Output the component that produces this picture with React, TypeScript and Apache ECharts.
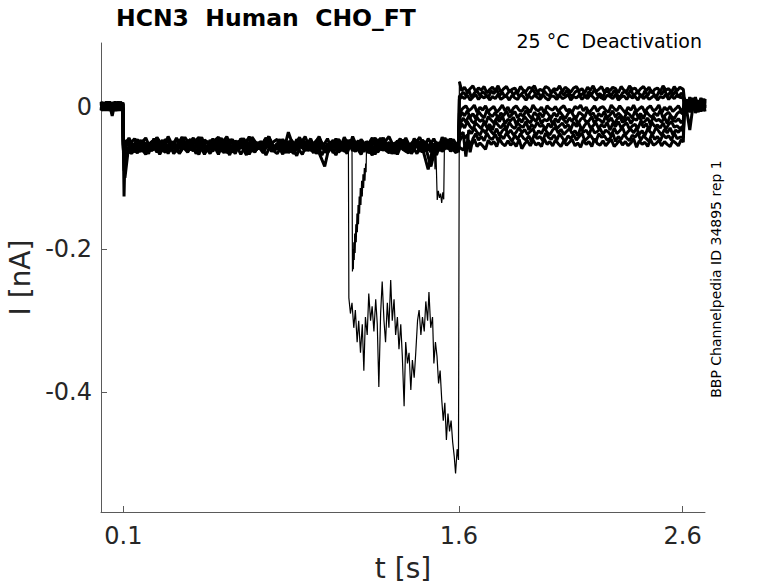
import React, { useEffect, useRef } from 'react'
import * as echarts from 'echarts'

// sample times (s); odd sweeps are sampled on the "B" grid, offset by half a step
const T_PRE = [0, 0.0125, 0.025, 0.0375, 0.05, 0.0625, 0.075, 0.0875, 0.098]
const T_STEP = [0.1, 0.103, 0.107]
const T_HOLD_A = [
  0.125, 0.15, 0.175, 0.2, 0.225, 0.25, 0.275, 0.3, 0.325, 0.35,
  0.375, 0.4, 0.425, 0.45, 0.475, 0.5, 0.525, 0.55, 0.575, 0.6,
  0.625, 0.65, 0.675, 0.7, 0.725, 0.75, 0.775, 0.8, 0.825, 0.85,
  0.875, 0.9, 0.925, 0.95, 0.975, 1.0, 1.025, 1.05, 1.075, 1.1,
  1.125, 1.15, 1.175, 1.2, 1.225, 1.25, 1.275, 1.3, 1.325, 1.35,
  1.375, 1.4, 1.425, 1.45, 1.475, 1.5, 1.525, 1.55, 1.575, 1.598,
]
const T_HOLD_B = [
  0.1375, 0.1625, 0.1875, 0.2125, 0.2375, 0.2625, 0.2875, 0.3125, 0.3375, 0.3625,
  0.3875, 0.4125, 0.4375, 0.4625, 0.4875, 0.5125, 0.5375, 0.5625, 0.5875, 0.6125,
  0.6375, 0.6625, 0.6875, 0.7125, 0.7375, 0.7625, 0.7875, 0.8125, 0.8375, 0.8625,
  0.8875, 0.9125, 0.9375, 0.9625, 0.9875, 1.0125, 1.0375, 1.0625, 1.0875, 1.1125,
  1.1375, 1.1625, 1.1875, 1.2125, 1.2375, 1.2625, 1.2875, 1.3125, 1.3375, 1.3625,
  1.3875, 1.4125, 1.4375, 1.4625, 1.4875, 1.5125, 1.5375, 1.5625, 1.5875, 1.598,
]
const T_TAIL_A = [
  1.602, 1.6125, 1.625, 1.6375, 1.65, 1.6625, 1.675, 1.6875, 1.7, 1.7125,
  1.725, 1.7375, 1.75, 1.7625, 1.775, 1.7875, 1.8, 1.8125, 1.825, 1.8375,
  1.85, 1.8625, 1.875, 1.8875, 1.9, 1.9125, 1.925, 1.9375, 1.95, 1.9625,
  1.975, 1.9875, 2.0, 2.0125, 2.025, 2.0375, 2.05, 2.0625, 2.075, 2.0875,
  2.1, 2.1125, 2.125, 2.1375, 2.15, 2.1625, 2.175, 2.1875, 2.2, 2.2125,
  2.225, 2.2375, 2.25, 2.2625, 2.275, 2.2875, 2.3, 2.3125, 2.325, 2.3375,
  2.35, 2.3625, 2.375, 2.3875, 2.4, 2.4125, 2.425, 2.4375, 2.45, 2.4625,
  2.475, 2.4875, 2.5, 2.5125, 2.525, 2.5375, 2.55, 2.5625, 2.575, 2.5875,
  2.603,
]
const T_TAIL_B = [
  1.602, 1.619, 1.631, 1.644, 1.656, 1.669, 1.681, 1.694, 1.706, 1.719,
  1.731, 1.744, 1.756, 1.769, 1.781, 1.794, 1.806, 1.819, 1.831, 1.844,
  1.856, 1.869, 1.881, 1.894, 1.906, 1.919, 1.931, 1.944, 1.956, 1.969,
  1.981, 1.994, 2.006, 2.019, 2.031, 2.044, 2.056, 2.069, 2.081, 2.094,
  2.106, 2.119, 2.131, 2.144, 2.156, 2.169, 2.181, 2.194, 2.206, 2.219,
  2.231, 2.244, 2.256, 2.269, 2.281, 2.294, 2.306, 2.319, 2.331, 2.344,
  2.356, 2.369, 2.381, 2.394, 2.406, 2.419, 2.431, 2.444, 2.456, 2.469,
  2.481, 2.494, 2.506, 2.519, 2.531, 2.544, 2.556, 2.569, 2.581, 2.594,
  2.603,
]
const T_POST = [2.608, 2.62, 2.632, 2.645, 2.657, 2.67, 2.682, 2.694, 2.7]

// currents in pA, one row per sweep
const PRE_PA = [
  [4, -5, 6, -4, 5, -6, 3, -5, 4],
  [-5, 5, -3, 7, -6, 4, -4, 6, -2],
  [6, -4, 5, -6, 3, -5, 7, -3, 5],
  [-3, 6, -5, 4, -13, 5, -4, 6, -5],
  [5, -6, 4, -3, 6, -4, 5, -6, 3],
  [-6, 3, -5, 6, -3, 7, -5, 4, -4],
  [3, -5, 7, -4, 5, -3, 6, -5, 4],
  [-4, 6, -6, 5, -5, 3, -6, 5, -3],
  [7, -3, 4, -5, 6, -6, 4, -4, 6],
  [-5, 4, -4, 6, -4, 5, -3, 7, -5],
]
const STEP_PA = [
  [-52, -64, -58],
  [-55, -126, -70],
  [-58, -66, -100],
  [-50, -90, -62],
  [-60, -57, -49],
  [-54, -61, -66],
  [-48, -58, -53],
  [-57, -52, -60],
  [-61, -67, -55],
  [-53, -49, -57],
]
const HOLD_PA = [
  [-49, -60, -53, -44, -62, -57, -47, -66, -51, -58,
   -43, -55, -64, -48, -59, -52, -67, -46, -56, -61,
   -45, -53, -63, -50, -58, -42, -60, -54, -65, -49,
   -57, -47, -62, -52, -44, -59, -55, -68, -50, -56],
  [-58, -46, -63, -54, -49, -67, -52, -60, -44, -57,
   -61, -50, -55, -65, -47, -59, -53, -42, -62, -56,
   -48, -64, -51, -58, -45, -60, -66, -53, -49, -57,
   -43, -61, -55, -50, -68, -52, -58, -46, -63, -54,
   -59, -47, -65, -51, -56, -44, -62, -57, -49, -60,
   -53, -66, -48, -58, -45, -61, -54, -50, -64, -56],
  [-52, -64, -47, -57, -61, -43, -55, -59, -50, -66,
   -54, -46, -62, -58, -49, -63, -44, -56, -60, -51,
   -67, -53, -48, -59, -55, -42, -61, -57, -50, -64,
   -46, -58, -53, -65, -49, -56, -60, -45, -62, -52,
   -57, -48, -63, -54, -44, -59, -51, -66, -55, -47,
   -61, -53, -58, -49, -64, -56, -45, -60, -52, -57],
  [-60, -49, -56, -66, -45, -58, -52, -62, -47, -55,
   -64, -51, -43, -59, -57, -48, -63, -54, -46, -61,
   -53, -67, -50, -56, -44, -60, -58, -49, -65, -52,
   -55, -42, -62, -57, -51, -59, -47, -64, -54, -50,
   -61, -46, -56, -68, -53, -48, -60, -55, -45, -63,
   -57, -50, -59, -88, -52, -62, -48, -56, -65, -54],
  [-47, -58, -63, -52, -55, -44, -61, -57, -49, -65,
   -53, -60, -46, -56, -62, -50, -43, -59, -54, -66,
   -48, -57, -61, -51, -64, -45, -58, -53, -60, -47,
   -56, -67, -50, -55, -42, -62, -59, -49, -54, -63,
   -46, -58, -52, -65, -57, -44, -61, -53, -50, -60,
   -55, -48, -63, -56, -84, -51, -59, -46, -62, -54],
  [-63, -51, -48, -59, -56, -65, -46, -54, -60, -43,
   -57, -62, -50, -67, -53, -47, -58, -55, -64, -49,
   -52, -44, -61, -57, -50, -63, -55, -46, -59, -66,
   -51, -56, -48, -62, -58, -45, -65, -53, -60, -47,
   -54, -61, -49, -57, -64, -52, -42, -59, -56, -50,
   -66, -53, -47, -61, -55, -58, -44, -63, -51, -57],
  [-54, -45, -61, -58, -50, -64, -53, -47, -66, -56,
   -49, -60, -55, -43, -62, -57, -51, -65, -46, -59,
   -53, -68, -48, -56, -61, -44, -58, -52, -63, -50,
   -57, -46, -60, -54, -65, -84, -49, -59, -55, -47,
   -62, -52, -57, -64, -45, -56, -60, -51, -67, -48,
   -58, -54, -43, -61, -57, -50, -63, -55, -46, -59],
  [-59, -65, -50, -55, -46, -61, -57, -52, -63, -48,
   -56, -44, -60, -54, -66, -51, -58, -47, -62, -53,
   -45, -57, -64, -49, -55, -60, -52, -67, -36, -58,
   -54, -62, -48, -57, -51, -65, -55, -46, -60, -53,
   -63, -49, -56, -44, -59, -61, -50, -66, -54, -47,
   -58, -52, -64, -45, -57, -60, -51, -55, -62, -48],
  [-44, -60, -56, -67, -49, -53, -62, -42, -58, -64,
   -51, -47, -66, -55, -59, -45, -63, -52, -68, -48,
   -57, -61, -43, -54, -65, -50, -59, -46, -62, -56,
   -69, -47, -53, -60, -44, -64, -58, -49, -55, -66,
   -42, -61, -57, -51, -67, -46, -54, -63, -48, -60,
   -65, -45, -56, -62, -50, -68, -43, -59, -53, -64],
  [-66, -48, -53, -61, -45, -58, -64, -50, -56, -43,
   -62, -55, -67, -47, -52, -60, -44, -65, -57, -49,
   -59, -42, -63, -54, -68, -51, -46, -61, -56, -64,
   -48, -57, -45, -66, -53, -60, -50, -63, -43, -58,
   -55, -67, -49, -62, -46, -59, -65, -52, -57, -44,
   -61, -47, -64, -54, -69, -50, -58, -45, -63, -53],
]
const TAIL_PA = [
  [35, 22, 27, 20, 25, 29, 21, 26, 23, 28, 19, 24, 27, 22, 29, 20, 25, 28, 21, 24,
   26, 19, 28, 23, 21, 27, 25, 29, 20, 24, 22, 28, 26, 19, 25, 23, 29, 21, 27, 24,
   20, 26, 28, 22, 25, 19, 27, 23, 29, 21, 24, 28, 20, 26, 22, 27, 25, 19, 28, 23,
   21, 29, 24, 26, 20, 25, 28, 22, 27, 19, 24, 26, 21, 29, 23, 25, 20, 28, 22, 27, 24],
  [14, 20, 16, 23, 13, 19, 22, 15, 21, 17, 12, 22, 18, 24, 15, 20, 13, 19, 23, 16,
   21, 14, 18, 22, 13, 20, 24, 16, 19, 12, 22, 17, 15, 23, 19, 13, 21, 16, 22, 18,
   14, 20, 23, 15, 19, 12, 21, 17, 24, 16, 18, 13, 22, 20, 15, 23, 17, 12, 19, 21,
   16, 24, 14, 20, 18, 13, 22, 15, 23, 19, 12, 21, 17, 24, 14, 20, 16, 22, 13, 19, 15],
  [10, 14, 11, 16, 9, 13, 17, 10, 15, 12, 16, 9, 14, 11, 17, 10, 13, 15, 9, 16,
   12, 10, 17, 14, 9, 15, 11, 16, 13, 10, 17, 12, 9, 15, 14, 10, 16, 11, 13, 17,
   9, 14, 12, 16, 10, 15, 11, 17, 13, 9, 15, 12, 10, 16, 14, 11, 17, 9, 13, 15,
   10, 16, 12, 14, 9, 17, 11, 15, 10, 13, 16, 9, 14, 12, 17, 10, 15, 11, 16, 13, 12],
  [-9, -2, 1, -6, -3, 2, -8, -1, -5, 1, -7, -3, 0, -8, -4, 2, -6, -1, -9, -2,
   1, -5, -7, 0, -3, -8, 2, -4, -6, -1, -9, 1, -3, -5, 0, -7, -2, 1, -6, -4,
   -8, 0, -3, 2, -6, -1, -9, -4, 1, -7, -2, 0, -5, -8, 2, -3, -6, 1, -4, -9,
   -1, -5, 2, -7, -3, 0, -8, -2, 1, -6, -4, 2, -9, -1, -5, 0, -7, -3, 1, -6, -3],
  [-18, -8, -13, -6, -15, -10, -17, -7, -12, -16, -5, -11, -14, -8, -17, -9, -13, -6, -15, -11,
   -7, -16, -10, -14, -5, -12, -17, -8, -13, -9, -15, -6, -11, -16, -9, -14, -7, -12, -17, -10,
   -6, -13, -16, -8, -11, -15, -5, -12, -9, -17, -10, -14, -7, -16, -12, -6, -15, -9, -13, -18,
   -8, -11, -16, -6, -14, -10, -17, -7, -12, -15, -9, -13, -5, -16, -11, -8, -14, -17, -10, -7, -11],
  [-26, -16, -22, -13, -20, -24, -15, -21, -18, -25, -14, -19, -23, -16, -21, -13, -24, -18, -20, -15,
   -25, -17, -22, -14, -19, -23, -16, -21, -13, -24, -18, -20, -15, -25, -17, -22, -14, -19, -23, -16,
   -21, -13, -25, -18, -15, -22, -20, -14, -24, -17, -19, -23, -13, -21, -16, -25, -18, -14, -22, -20,
   -15, -24, -17, -19, -13, -23, -21, -16, -25, -14, -20, -18, -22, -15, -24, -13, -19, -21, -17, -23, -19],
  [-33, -24, -30, -21, -28, -32, -23, -27, -31, -22, -29, -25, -33, -21, -26, -30, -24, -32, -22, -28,
   -31, -23, -27, -29, -21, -33, -25, -30, -22, -28, -26, -32, -24, -29, -21, -31, -27, -23, -30, -25,
   -32, -22, -28, -24, -33, -26, -21, -30, -27, -23, -31, -25, -29, -22, -33, -24, -28, -21, -30, -26,
   -23, -32, -27, -25, -31, -21, -29, -24, -33, -22, -28, -26, -30, -23, -32, -25, -21, -29, -27, -31, -27],
  [-41, -36, -70, -33, -38, -30, -36, -40, -32, -37, -29, -35, -39, -31, -41, -34, -30, -38, -33, -40,
   -36, -29, -37, -32, -39, -35, -31, -41, -34, -38, -30, -36, -40, -33, -29, -37, -32, -39, -35, -31,
   -38, -34, -41, -30, -36, -33, -40, -29, -37, -35, -31, -39, -33, -36, -41, -30, -38, -34, -29, -40,
   -35, -32, -37, -30, -39, -34, -41, -31, -36, -38, -29, -35, -40, -32, -37, -30, -39, -33, -36, -31, -35],
  [-49, -42, -44, -40, -64, -45, -38, -47, -42, -48, -37, -44, -46, -39, -48, -41, -45, -37, -43, -49,
   -40, -46, -38, -44, -47, -41, -49, -39, -45, -42, -48, -37, -43, -46, -40, -47, -38, -44, -49, -41,
   -45, -39, -47, -42, -37, -48, -44, -40, -46, -49, -38, -43, -41, -47, -45, -37, -49, -42, -46, -39,
   -44, -48, -40, -43, -37, -47, -41, -45, -49, -38, -46, -42, -48, -39, -44, -41, -47, -37, -45, -43, -43],
  [-57, -61, -52, -48, -54, -46, -56, -51, -55, -60, -47, -53, -49, -56, -45, -52, -55, -48, -54, -50,
   -56, -46, -59, -52, -48, -55, -47, -54, -51, -56, -45, -53, -49, -55, -47, -52, -56, -48, -54, -50,
   -46, -55, -51, -57, -47, -53, -49, -56, -45, -52, -54, -48, -55, -50, -46, -56, -52, -47, -54, -49,
   -55, -51, -45, -57, -48, -53, -50, -56, -46, -54, -52, -47, -55, -49, -53, -56, -48, -51, -55, -46, -50],
]
const POST_PA = [
  [10, -2, 12, 0, 9, -3, 11, 1, 8],
  [-4, 8, -6, 10, -5, 7, -3, 9, -2],
  [6, -7, 9, -4, 11, -6, 8, -5, 10],
  [12, -3, 10, -1, 13, -2, 9, 0, 11],
  [-6, 5, -8, 7, -4, 6, -7, 4, -3],
  [3, -9, -33, -2, 8, -5, 6, -4, 5],
  [9, -1, 13, 2, 10, -4, 12, -1, 7],
  [-8, 4, -5, 6, -9, 3, -6, 5, -7],
  [5, -5, 7, -3, 4, -8, 9, -6, 2],
  [-2, 10, -4, 12, -3, 9, -5, 11, 0],
]

// run-down events: times (s) and currents (pA)
const DIP_A_T = [
  1.106, 1.108, 1.115, 1.122, 1.13, 1.137, 1.145, 1.152, 1.16, 1.168,
  1.175, 1.182, 1.19, 1.197, 1.205, 1.212, 1.22, 1.228, 1.235, 1.242,
  1.25, 1.257, 1.265, 1.272, 1.28, 1.287, 1.295, 1.302, 1.31, 1.317,
  1.325, 1.332, 1.34, 1.347, 1.355, 1.362, 1.37, 1.377, 1.385, 1.392,
  1.4, 1.407, 1.415, 1.422, 1.43, 1.437, 1.445, 1.452, 1.46, 1.466,
  1.474, 1.482, 1.488, 1.495, 1.502, 1.509, 1.516, 1.523, 1.53, 1.537,
  1.544, 1.551, 1.558, 1.565, 1.572, 1.579, 1.585, 1.592, 1.598,
]
const DIP_A_PA = [
  -62, -268, -290, -275, -310, -285, -330, -300, -345, -305,
  -370, -295, -320, -262, -300, -280, -315, -270, -305, -393,
  -290, -245, -300, -330, -275, -310, -243, -300, -270, -320,
  -295, -340, -305, -350, -420, -330, -360, -345, -397, -355,
  -380, -345, -300, -285, -320, -295, -315, -273, -300, -260,
  -310, -295, -360, -330, -350, -388, -370, -410, -440, -415,
  -467, -430, -455, -440, -470, -490, -514, -480, -495,
]
const DIP_B_T = [
  1.122, 1.124, 1.126, 1.128, 1.13, 1.132, 1.134, 1.136, 1.139, 1.141,
  1.144, 1.146, 1.149, 1.151, 1.154, 1.156, 1.159, 1.162, 1.165, 1.168,
  1.171, 1.174, 1.177, 1.18, 1.183, 1.185, 1.187,
]
const DIP_B_PA = [
  -58, -231, -200, -228, -190, -215, -178, -205, -165, -190,
  -150, -176, -138, -165, -126, -150, -114, -138, -104, -126,
  -95, -114, -86, -104, -80, -92, -56,
]
const DIP_C_T = [1.49, 1.493, 1.497, 1.503, 1.508, 1.513, 1.518, 1.523, 1.528, 1.532, 1.535]
const DIP_C_PA = [-55, -88, -60, -131, -118, -128, -122, -135, -120, -130, -58]

const EVENTS = [
  { sweep: 0, t: DIP_A_T, pa: DIP_A_PA },
  { sweep: 1, t: DIP_B_T, pa: DIP_B_PA },
  { sweep: 2, t: DIP_C_T, pa: DIP_C_PA },
]

const X_TICKS = [0.1, 1.6, 2.6]
const Y_TICKS = [-0.4, -0.2, 0]

const FONT = '"DejaVu Sans", Verdana, sans-serif'

// noisy baseline of a sweep (with a gap where an event is) and the event trace itself
function sweepParts(k: number) {
  const pts: number[][] = []
  const add = (ts: number[], vs: number[]) => {
    for (let i = 0; i < Math.min(ts.length, vs.length); i++) pts.push([ts[i], vs[i] / 1000])
  }
  const odd = k % 2 === 1
  add(T_PRE, PRE_PA[k])
  add(T_STEP, STEP_PA[k])
  add(odd ? T_HOLD_B : T_HOLD_A, HOLD_PA[k])
  add(odd ? T_TAIL_B : T_TAIL_A, TAIL_PA[k])
  add(T_POST, POST_PA[k])
  pts.sort((a, b) => a[0] - b[0])
  const ev = EVENTS.find(e => e.sweep === k)
  if (!ev) return { base: pts, event: null as number[][] | null }
  const t0 = ev.t[0], t1 = ev.t[ev.t.length - 1]
  const before = pts.filter(p => p[0] < t0)
  const after = pts.filter(p => p[0] > t1)
  const evPts = ev.t.map((t, i) => [t, ev.pa[i] / 1000])
  return {
    base: [...before, [(t0 + t1) / 2, null as any], ...after],
    event: [before[before.length - 1], ...evPts, after[0]],
  }
}

export default function App() {
  const ref = useRef<HTMLDivElement | null>(null)

  useEffect(() => {
    if (!ref.current) return
    const chart = echarts.init(ref.current, null, { renderer: 'svg' })
    const axisColor = '#5a5a5a'
    const labelColor = '#262626'

    const series: any[] = []
    HOLD_PA.forEach((_, k) => {
      const { base, event } = sweepParts(k)
      series.push({
        type: 'line', data: base, showSymbol: false, silent: true, connectNulls: false,
        lineStyle: { color: '#000', width: 3 },
      })
      if (event) {
        series.push({
          type: 'line', data: event, showSymbol: false, silent: true,
          lineStyle: { color: '#000', width: 1.2 },
        })
      }
    })

    chart.setOption({
      animation: false,
      backgroundColor: '#fff',
      grid: { left: 101, right: 73, top: 43, bottom: 71, outerBoundsMode: 'none' },
      xAxis: {
        type: 'value',
        min: 0,
        max: 2.7,
        name: 't [s]',
        nameLocation: 'middle',
        nameGap: 44,
        nameTextStyle: { fontSize: 28, lineHeight: 24, fontFamily: FONT, color: labelColor },
        axisLine: { onZero: false, lineStyle: { color: axisColor, width: 1 } },
        axisTick: { inside: true, length: 6, customValues: X_TICKS, lineStyle: { color: axisColor } },
        axisLabel: { customValues: X_TICKS, margin: 12, fontSize: 24, fontFamily: FONT, color: labelColor },
        splitLine: { show: false },
      },
      yAxis: {
        type: 'value',
        min: -0.568,
        max: 0.089,
        name: 'I [nA]',
        nameLocation: 'middle',
        nameGap: 51,
        nameTextStyle: { fontSize: 28, fontFamily: FONT, color: labelColor },
        axisLine: { show: true, onZero: false, lineStyle: { color: axisColor, width: 1 } },
        axisTick: { show: true, inside: true, length: 6, customValues: Y_TICKS, lineStyle: { color: axisColor } },
        axisLabel: { customValues: Y_TICKS, margin: 9, fontSize: 24, fontFamily: FONT, color: labelColor },
        splitLine: { show: false },
      },
      graphic: [
        {
          type: 'text', x: 116, y: 18,
          style: { text: 'HCN3  Human  CHO_FT', fontSize: 23.5, fontWeight: 'bold', fontFamily: FONT, fill: '#000', align: 'left', verticalAlign: 'middle' },
        },
        {
          type: 'text', x: 702, y: 41,
          style: { text: '25 °C  Deactivation', fontSize: 19, fontFamily: FONT, fill: '#000', align: 'right', verticalAlign: 'middle' },
        },
        {
          type: 'text', x: 716, y: 279, rotation: Math.PI / 2,
          style: { text: 'BBP Channelpedia ID 34895 rep 1', fontSize: 14, fontFamily: FONT, fill: '#000', align: 'center', verticalAlign: 'middle' },
        },
      ],
      series,
    } as any)

    return () => chart.dispose()
  }, [])

  return <div ref={ref} style={{ position: 'absolute', left: 0, top: 0, width: 778, height: 583, background: '#fff' }} />
}
